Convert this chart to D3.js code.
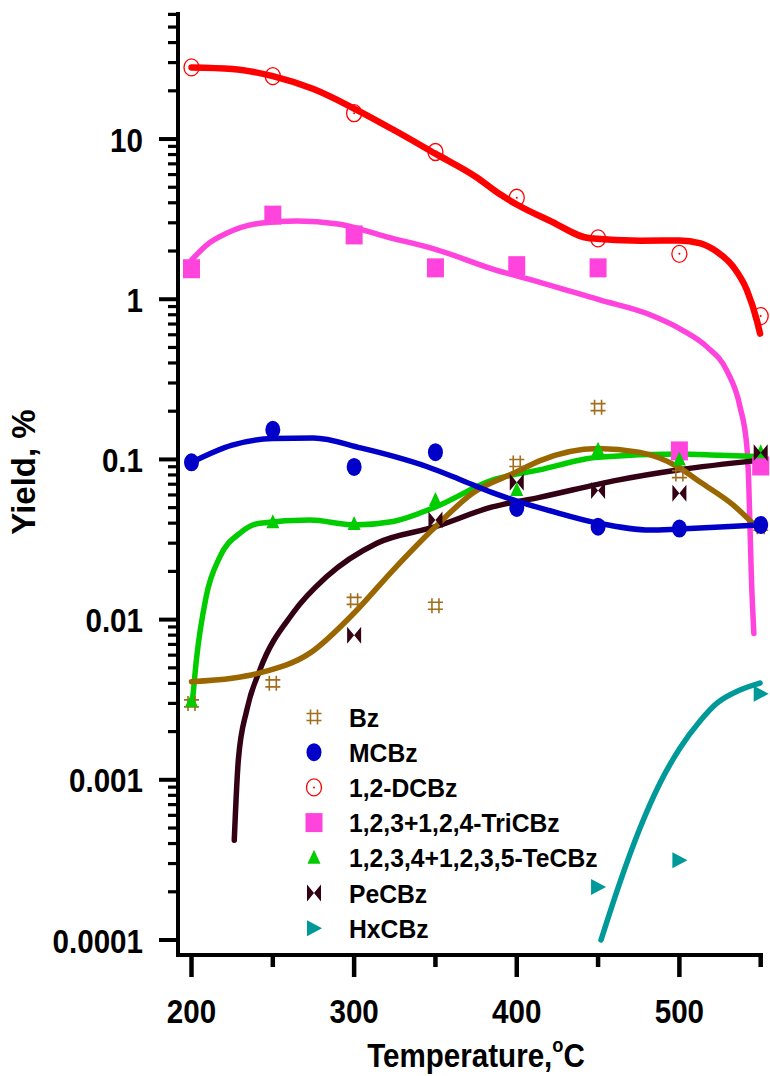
<!DOCTYPE html>
<html>
<head>
<meta charset="utf-8">
<script src="https://cdn.jsdelivr.net/npm/d3@7"></script>
<style>
  html, body { margin: 0; padding: 0; background: #fff; }
  svg { display: block; }
  text { font-family: "Liberation Sans", Arial, sans-serif; font-weight: bold; fill: #000; }
</style>
</head>
<body>
<svg id="chart" width="770" height="1076"></svg>
<script>
// Measured yields (%) of chlorobenzenes versus temperature (°C)
const temps = [200, 250, 300, 350, 400, 450, 500, 550];
const bz     = [0.0030, 0.0040, 0.0131, 0.0122, 0.095, 0.212, 0.081, 0.038];
const mcbz   = [0.096, 0.153, 0.0898, 0.111, 0.0498, 0.038, 0.037, 0.039];
const dcbz   = [28, 24.7, 14.5, 8.3, 4.3, 2.4, 1.92, 0.785];
const tricbz = [1.55, 3.35, 2.52, 1.57, 1.62, 1.57, 0.113, 0.091];
const tecbz  = [0.0031, 0.0406, 0.0395, 0.0558, 0.0644, 0.115, 0.100, 0.111];
const peTemps = [300, 350, 400, 450, 500, 550];
const pecbz  = [0.0080, 0.0419, 0.072, 0.064, 0.0616, 0.11];
const hxTemps = [450, 500, 550];
const hxcbz  = [0.000214, 0.000315, 0.00344];

// Smoothed trend lines, [temperature, yield] pairs
const dcbzFit = [[200,28],[225,27.4],[250,24.7],[275,20.5],[300,15.5],[325,11.3],[350,8.1],[375,5.8],[390,4.5],[400,3.9],[420,3.1],[445,2.4],[476,2.32],[500,2.33],[513,2.23],[523,1.98],[533,1.6],[541.5,1.14],[547.6,0.74],[549.6,0.61]];
const tricbzFit = [[200.1,1.76],[209.3,2.18],[221.6,2.58],[242,2.98],[265,3.08],[290,2.95],[320,2.45],[350,2.05],[390,1.49],[400,1.40],[451,0.99],[482,0.80],[502,0.64],[516.8,0.506],[529,0.361],[537.3,0.213],[541.5,0.12],[542.6,0.074],[544.3,0.018],[545.8,0.0082]];
const mcbzFit = [[200,0.096],[225,0.123],[250,0.135],[275,0.136],[304,0.118],[325,0.104],[345,0.090],[365,0.075],[385,0.062],[400,0.055],[420,0.048],[450,0.040],[482,0.0362],[500,0.0368],[525,0.0378],[550,0.039]];
const bzFit = [[200,0.0041],[225,0.0043],[242,0.00465],[273,0.0062],[300,0.011],[324,0.0204],[350,0.038],[373,0.0617],[400,0.0837],[414,0.098],[450,0.117],[475,0.111],[499,0.090],[513,0.072],[533,0.052],[548,0.0373]];
const tecbzFit = [[200.5,0.0030],[203,0.0056],[209,0.0139],[217.5,0.0247],[230,0.0348],[242,0.040],[273,0.0418],[300,0.039],[324,0.041],[350,0.0505],[385,0.0743],[414,0.086],[450,0.103],[500,0.108],[525,0.106],[550,0.104]];
const pecbzFit = [[226.3,0.00042],[228.8,0.00133],[234,0.00273],[242,0.00484],[262.4,0.011],[283,0.0185],[314,0.030],[350,0.038],[385,0.0505],[414,0.058],[462,0.0743],[499,0.0859],[550,0.099]];
const hxcbzFit = [[451.8,0.0001],[463.5,0.00023],[475.8,0.0005],[488.1,0.000955],[500.4,0.00158],[512.7,0.00233],[523.1,0.00301],[537.3,0.00364],[549.6,0.00402]];

// Axis ticks
const xMajor = [200, 300, 400, 500];
const xMinor = [250, 350, 450, 550];
const yMajor = [0.0001, 0.001, 0.01, 0.1, 1, 10];
const yLabels = ["0.0001", "0.001", "0.01", "0.1", "1", "10"];

const legendNames = ["Bz", "MCBz", "1,2-DCBz", "1,2,3+1,2,4-TriCBz", "1,2,3,4+1,2,3,5-TeCBz", "PeCBz", "HxCBz"];

const svg = d3.select("#chart");

const x = d3.scaleLinear().domain([200, 550]).range([191.5, 760.7]);
const y = d3.scaleLog().domain([0.0001, 62]).range([940, 12.1]);

const colors = {
  bz: "#a06e1c", bzLine: "#996600",
  mcbz: "#0000c8",
  dcbz: "#ff0000",
  tri: "#ff44dd",
  te: "#00cc00",
  pe: "#330014",
  hx: "#009999"
};

// --- axes ---
const axisColor = "#000";
svg.append("line").attr("x1", 178).attr("x2", 178).attr("y1", 12).attr("y2", 957)
  .attr("stroke", axisColor).attr("stroke-width", 4);
svg.append("line").attr("x1", 176).attr("x2", 763).attr("y1", 955).attr("y2", 955)
  .attr("stroke", axisColor).attr("stroke-width", 4);

// y minor ticks (2..9 in every decade, up to the top of the axis)
const yMinor = [];
for (let e = -4; e <= 1; e++) {
  for (let m = 2; m <= 9; m++) {
    const v = m * Math.pow(10, e);
    if (v <= 62) yMinor.push(v);
  }
}
svg.append("g").selectAll("line").data(yMinor).join("line")
  .attr("x1", 168).attr("x2", 178)
  .attr("y1", d => y(d)).attr("y2", d => y(d))
  .attr("stroke", axisColor).attr("stroke-width", 3.2);
svg.append("g").selectAll("line").data(yMajor).join("line")
  .attr("x1", 159).attr("x2", 178)
  .attr("y1", d => y(d)).attr("y2", d => y(d))
  .attr("stroke", axisColor).attr("stroke-width", 4);

const yLab = svg.append("g").selectAll("g").data(yMajor).join("g")
  .attr("transform", d => `translate(143,${y(d) + 12.5}) scale(0.87,1)`);
yLab.append("text").attr("text-anchor", "end").style("font-size", "34px")
  .text((d, i) => yLabels[i]);

// x ticks
svg.append("g").selectAll("line").data(xMajor).join("line")
  .attr("x1", d => x(d)).attr("x2", d => x(d))
  .attr("y1", 955).attr("y2", 977)
  .attr("stroke", axisColor).attr("stroke-width", 4.5);
svg.append("g").selectAll("line").data(xMinor).join("line")
  .attr("x1", d => x(d)).attr("x2", d => x(d))
  .attr("y1", 955).attr("y2", 967)
  .attr("stroke", axisColor).attr("stroke-width", 4.5);
const xLab = svg.append("g").selectAll("g").data(xMajor).join("g")
  .attr("transform", d => `translate(${x(d)},1023) scale(0.87,1)`);
xLab.append("text").attr("text-anchor", "middle").style("font-size", "34px").text(d => d);

// axis titles
const xt = svg.append("g").attr("transform", "translate(476,1067) scale(0.87,1)")
  .append("text").attr("text-anchor", "middle").style("font-size", "34px");
xt.append("tspan").text("Temperature,");
xt.append("tspan").attr("dy", -15).style("font-size", "21px").text("o");
xt.append("tspan").attr("dy", 15).text("C");

svg.append("g").attr("transform", "translate(35,472) rotate(-90)")
  .append("text").attr("text-anchor", "middle").style("font-size", "33px").text("Yield, %");

// --- trend lines ---
const line = d3.line().x(d => x(d[0])).y(d => y(d[1])).curve(d3.curveMonotoneX);
const fits = [
  [tricbzFit, colors.tri, 5.5],
  [tecbzFit, colors.te, 5.5],
  [pecbzFit, colors.pe, 5.5],
  [bzFit, colors.bzLine, 5.5],
  [mcbzFit, colors.mcbz, 5.5],
  [dcbzFit, colors.dcbz, 6.5],
  [hxcbzFit, colors.hx, 5.5]
];
svg.append("g").selectAll("path").data(fits).join("path")
  .attr("d", d => line(d[0]))
  .attr("fill", "none")
  .attr("stroke", d => d[1])
  .attr("stroke-width", d => d[2])
  .attr("stroke-linecap", "round");

// --- marker shapes (local coordinates around the point) ---
const markers = {
  bz: g => {
    g.append("path")
      .attr("d", "M-3.5,-7.5V7.5M3.5,-7.5V7.5M-7.5,-3.5H7.5M-7.5,3.5H7.5")
      .attr("stroke", colors.bz).attr("stroke-width", 1.6).attr("fill", "none");
  },
  mcbz: g => { g.append("ellipse").attr("rx", 7.5).attr("ry", 9).attr("fill", colors.mcbz); },
  dcbz: g => {
    g.append("ellipse").attr("rx", 7.5).attr("ry", 8.5).attr("fill", "none")
      .attr("stroke", colors.dcbz).attr("stroke-width", 1.3);
    g.append("circle").attr("r", 1).attr("fill", colors.dcbz);
  },
  tri: g => { g.append("rect").attr("x", -8.5).attr("y", -9.5).attr("width", 17).attr("height", 19).attr("fill", colors.tri); },
  te: g => { g.append("path").attr("d", "M0,-8L6.5,6H-6.5Z").attr("fill", colors.te); },
  pe: g => { g.append("path").attr("d", "M-7,-8.5L0,0L-7,8.5ZM7,-8.5L0,0L7,8.5Z").attr("fill", colors.pe); },
  hx: g => { g.append("path").attr("d", "M-7,-8L8,0L-7,8Z").attr("fill", colors.hx); }
};

const pointSets = [
  ["bz", temps, bz],
  ["mcbz", temps, mcbz],
  ["dcbz", temps, dcbz],
  ["tri", temps, tricbz],
  ["te", temps, tecbz],
  ["pe", peTemps, pecbz],
  ["hx", hxTemps, hxcbz]
];
const pts = svg.append("g");
pointSets.forEach(([key, ts, vs]) => {
  ts.forEach((t, i) => {
    const g = pts.append("g").attr("transform", `translate(${x(t)},${y(vs[i])})`);
    markers[key](g);
  });
});

// --- legend ---
const legendKeys = ["bz", "mcbz", "dcbz", "tri", "te", "pe", "hx"];
const leg = svg.append("g");
legendKeys.forEach((key, i) => {
  const cy = 717 + i * 35.2;
  markers[key](leg.append("g").attr("transform", `translate(314,${cy})`));
  leg.append("g").attr("transform", `translate(349,${cy + 9.5}) scale(0.95,1)`)
    .append("text").style("font-size", "26px").text(legendNames[i]);
});
</script>
</body>
</html>
